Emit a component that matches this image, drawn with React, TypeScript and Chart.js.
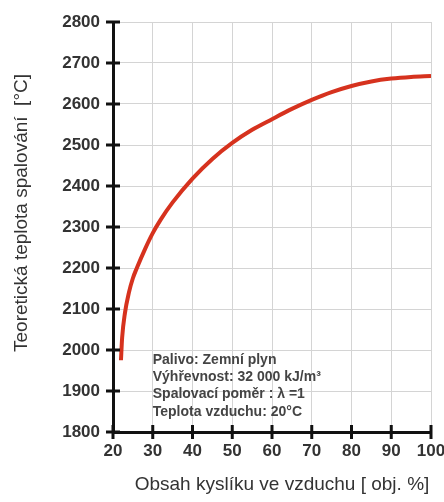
import React, { useEffect, useRef } from "react";
import { Chart, registerables } from "chart.js";

Chart.register(...registerables);

const oxygen = [22, 22.3, 23, 24, 25, 26, 28, 30, 32, 35, 40, 45, 50, 55, 60, 65, 70, 75, 80, 85, 90, 95, 100];
const temperature = [1975, 2030, 2090, 2140, 2175, 2200, 2245, 2285, 2318, 2360, 2418, 2466, 2505, 2537, 2563, 2588, 2610, 2629, 2644, 2655, 2662, 2666, 2668];

const xTicks = [20, 30, 40, 50, 60, 70, 80, 90, 100];
const yTicks = [1800, 1900, 2000, 2100, 2200, 2300, 2400, 2500, 2600, 2700, 2800];

const noteLines = [
  "Palivo: Zemní plyn",
  "Výhřevnost: 32 000 kJ/m³",
  "Spalovací poměr : λ =1",
  "Teplota vzduchu: 20°C",
];

const xTitle = "Obsah kyslíku ve vzduchu [ obj. %]";
const yTitle = "Teoretická teplota spalování  [°C]";

const FONT = "'Liberation Sans', Arial, sans-serif";

const axisTicksPlugin = {
  id: "axisTicks",
  afterDraw(chart: any) {
    const { ctx, scales, chartArea } = chart;
    const xs = scales.x;
    const ys = scales.y;
    const ax = xs.getPixelForValue(xTicks[0]);
    const ay = ys.getPixelForValue(yTicks[0]);
    ctx.save();
    ctx.strokeStyle = "#111";
    ctx.lineWidth = 3;
    yTicks.forEach((v) => {
      const y = ys.getPixelForValue(v);
      ctx.beginPath();
      ctx.moveTo(ax - 7, y);
      ctx.lineTo(ax + 7, y);
      ctx.stroke();
    });
    xTicks.forEach((v) => {
      const x = xs.getPixelForValue(v);
      ctx.beginPath();
      ctx.moveTo(x, ay - 7);
      ctx.lineTo(x, ay + 7);
      ctx.stroke();
    });
    // note text
    ctx.fillStyle = "#444";
    ctx.font = `bold 14px ${FONT}`;
    ctx.textAlign = "left";
    ctx.textBaseline = "middle";
    const nx = xs.getPixelForValue(30);
    const ny = ys.getPixelForValue(1976);
    noteLines.forEach((t, i) => {
      ctx.fillText(t, nx, ny + i * 17.3);
    });
    // x axis title
    ctx.fillStyle = "#333";
    ctx.font = `19px ${FONT}`;
    ctx.textAlign = "center";
    ctx.fillText(xTitle, (chartArea.left + chartArea.right) / 2 + 10, chartArea.bottom + 53);
    // y axis title
    ctx.translate(22, (chartArea.top + chartArea.bottom) / 2 - 14);
    ctx.rotate(-Math.PI / 2);
    ctx.fillText(yTitle, 0, 0);
    ctx.restore();
  },
};

export default function App() {
  const canvasRef = useRef<HTMLCanvasElement | null>(null);

  useEffect(() => {
    document.body.style.margin = "0";
    const canvas = canvasRef.current;
    if (!canvas) return;
    const chart = new Chart(canvas, {
      type: "line",
      data: {
        datasets: [
          {
            data: oxygen.map((x, i) => ({ x, y: temperature[i] })),
            borderColor: "#d6321e",
            borderWidth: 4,
            pointRadius: 0,
            fill: false,
            cubicInterpolationMode: "monotone",
          },
        ],
      },
      options: {
        animation: false,
        responsive: false,
        maintainAspectRatio: false,
        layout: { padding: { top: 22, right: 13, left: 0, bottom: 0 } },
        plugins: {
          legend: { display: false },
          tooltip: { enabled: false },
        },
        scales: {
          x: {
            type: "linear",
            min: 20,
            max: 100,
            afterBuildTicks: (s: any) => {
              s.ticks = xTicks.map((v) => ({ value: v }));
            },
            afterFit: (s: any) => {
              s.height = 70;
              s.paddingLeft = 0;
              s.paddingRight = 0;
            },
            ticks: {
              color: "#333",
              font: { family: FONT, size: 17, weight: "bold" },
              padding: 9,
              maxRotation: 0,
              autoSkip: false,
              callback: (v: any) => String(v),
            },
            grid: { color: "#d4d4d4", lineWidth: 1, drawTicks: false },
            border: { display: true, color: "#111", width: 3 },
          },
          y: {
            type: "linear",
            min: 1800,
            max: 2800,
            afterBuildTicks: (s: any) => {
              s.ticks = yTicks.map((v) => ({ value: v }));
            },
            afterFit: (s: any) => {
              s.width = 113;
              s.paddingTop = 0;
              s.paddingBottom = 0;
            },
            ticks: {
              color: "#333",
              font: { family: FONT, size: 17, weight: "bold" },
              padding: 13,
              autoSkip: false,
              callback: (v: any) => String(v),
            },
            grid: { color: "#d4d4d4", lineWidth: 1, drawTicks: false },
            border: { display: true, color: "#111", width: 3 },
          },
        },
      },
      plugins: [axisTicksPlugin],
    });
    return () => chart.destroy();
  }, []);

  return (
    <div style={{ width: 444, height: 502, position: "relative", background: "#fff" }}>
      <canvas ref={canvasRef} width={444} height={502} style={{ width: 444, height: 502, display: "block" }} />
    </div>
  );
}
